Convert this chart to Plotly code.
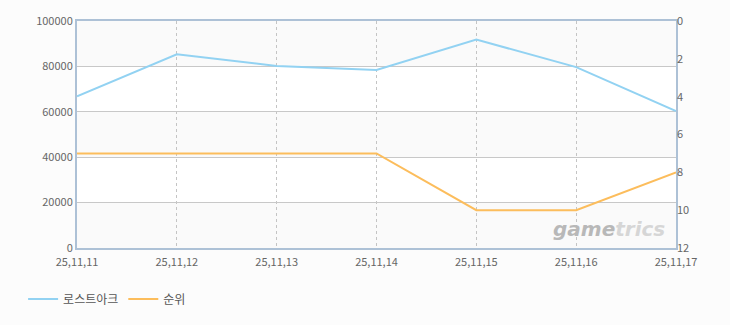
import plotly.graph_objects as go

dates = ["25,11,11", "25,11,12", "25,11,13", "25,11,14", "25,11,15", "25,11,16", "25,11,17"]
users = [66800, 85300, 80200, 78400, 91800, 79700, 60300]
rank = [7, 7, 7, 7, 10, 10, 8]
y_ticks = [0, 20000, 40000, 60000, 80000, 100000]
rank_ticks = [0, 2, 4, 6, 8, 10, 12]

FONT = "Noto Sans CJK KR, DejaVu Sans, sans-serif"
BLUE = "#92d2f2"
ORANGE = "#fcbd5c"
AXIS = "#adc1d6"

fig = go.Figure()
fig.add_trace(go.Scatter(x=dates, y=users, name="로스트아크", mode="lines",
                         line=dict(color=BLUE, width=2), yaxis="y"))
fig.add_trace(go.Scatter(x=dates, y=rank, name="순위", mode="lines",
                         line=dict(color=ORANGE, width=2), yaxis="y2"))

# alternating bands
shapes = []
for i in range(len(y_ticks) - 1):
    if i % 2 == 0:
        shapes.append(dict(type="rect", xref="paper", yref="y", x0=0, x1=1,
                           y0=y_ticks[i], y1=y_ticks[i + 1],
                           fillcolor="#fafafa", line=dict(width=0), layer="below"))

fig.update_layout(
    width=730, height=325,
    margin=dict(l=77, r=54, t=16, b=77),
    paper_bgcolor="#fcfcfc",
    plot_bgcolor="#ffffff",
    font=dict(family=FONT, size=11, color="#666666"),
    shapes=shapes,
    showlegend=True,
    legend=dict(orientation="h", x=-0.09, y=-0.225, xanchor="left", yanchor="middle",
                font=dict(size=12, color="#555555"), bgcolor="rgba(0,0,0,0)",
                itemwidth=30),
    xaxis=dict(type="category", range=[0, 6], showgrid=True, gridcolor="#c4c4c4",
               griddash="3px,3px", gridwidth=1, showline=True, linecolor=AXIS, linewidth=2,
               mirror=True, ticks="", tickfont=dict(size=11, color="#666666"),
               ticklabelstandoff=3, zeroline=False),
    yaxis=dict(range=[0, 100000], tickvals=y_ticks, ticktext=[str(v) for v in y_ticks],
               showgrid=True, gridcolor="#c8c8c8", gridwidth=1, showline=True,
               linecolor=AXIS, linewidth=2, mirror=True, ticks="", zeroline=False,
               tickfont=dict(size=11, color="#666666")),
    yaxis2=dict(overlaying="y", side="right", range=[12, 0], tickvals=rank_ticks,
                showgrid=False, showline=False, ticks="", zeroline=False,
                tickfont=dict(size=11, color="#666666")),
    annotations=[dict(text="<b><i><span style='color:#b8b8b8'>game</span>"
                           "<span style='color:#d6d6d6'>trics</span></i></b>",
                      xref="paper", yref="paper",
                      x=0.985, y=0.085, xanchor="right", yanchor="middle",
                      showarrow=False, font=dict(size=20, color="#cfcfcf",
                                                 family="DejaVu Sans, sans-serif"))],
)

fig.write_html("out.html")
